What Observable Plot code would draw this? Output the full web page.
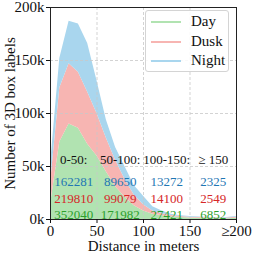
<!DOCTYPE html>
<html>
<head>
<meta charset="utf-8">
<script src="https://cdn.jsdelivr.net/npm/d3@7"></script>
<script src="https://cdn.jsdelivr.net/npm/@observablehq/plot@0.6"></script>
<style>
  html, body { margin: 0; padding: 0; background: white; }
  #wrap { position: relative; width: 254px; height: 254px; }
  #legend { position: absolute; left: 145px; top: 10px; width: 84px; height: 62px;
    border: 1px solid #d4d4d4; border-radius: 3px; background: rgba(255,255,255,0.85);
    font-family: "Liberation Serif", serif; font-size: 15px; color: #111; box-sizing: border-box; }
  .item { position: absolute; left: 0; height: 18px; width: 100%; }
  .sw { position: absolute; left: 5px; top: 9px; width: 30px; height: 2px; }
  .lb { position: absolute; left: 45px; top: 0; line-height: 19px; }
</style>
</head>
<body>
<div id="wrap"></div>
<script>
// distance bins (m)
const distances = [0,10,20,30,40,50,60,70,80,90,100,110,120,130,140,150,160,170,180,190,200];
// labels per distance (thousands), per condition (stacked: Day bottom, Dusk, Night top)
const day   = [14, 73, 90, 86, 71, 60, 45, 31, 21, 13, 8, 5, 3.5, 2.5, 1.8, 1.4, 1.1, 0.9, 0.8, 0.8, 1.2];
const dusk  = [20, 51, 57, 53, 49, 40, 32, 25, 17, 10, 6, 3, 2, 1.3, 1.0, 0.8, 0.8, 0.7, 0.7, 0.7, 0.9];
const night = [18, 28, 40, 45.5, 46, 31, 17, 12, 12, 9, 8, 4, 2.5, 1.2, 0.7, 0.6, 0.5, 0.4, 0.4, 0.5, 0.7];
const conditions = ["Day", "Dusk", "Night"];
const fillColors = ["#b1e3b1", "#f7b5b2", "#a9d6ee"];
const textColors = ["#2ca02c", "#d62728", "#1f77b4"];

// range annotations
const rangeLabels = ["0-50:", "50-100:", "100-150:", "\u2265 150"];
const rangeStart = [0, 50, 100, 150];
const nightCounts = [162281, 89650, 13272, 2325];
const duskCounts  = [219810, 99079, 14100, 2549];
const dayCounts   = [352040, 171982, 27421, 6852];

const xTicks = [0, 50, 100, 150, 200];
const yTicks = [0, 50000, 100000, 150000, 200000];

const series = [day, dusk, night];
const rows = [];
conditions.forEach((c, i) => distances.forEach((d, j) => rows.push({d, v: series[i][j] * 1000, cond: c})));

const ann = rangeLabels.map((l, i) => ({label: l, xc: rangeStart[i] + 25,
  night: nightCounts[i], dusk: duskCounts[i], day: dayCounts[i]}));

const plot = Plot.plot({
  width: 254, height: 254,
  marginLeft: 50, marginRight: 18, marginTop: 7, marginBottom: 35,
  style: {fontFamily: "Liberation Serif, serif", fontSize: "14px", background: "white", color: "#111"},
  x: {domain: [0, 200]},
  y: {domain: [0, 200000]},
  color: {domain: conditions, range: fillColors},
  marks: [
    Plot.areaY(rows, {x: "d", y: "v", fill: "cond"}),
    Plot.gridX([50, 100, 150], {stroke: "#c8c8c8", strokeOpacity: 0.8, strokeDasharray: "3,2"}),
    Plot.gridY([50000, 100000, 150000], {stroke: "#c8c8c8", strokeOpacity: 0.8, strokeDasharray: "3,2"}),
    Plot.frame({stroke: "#222", strokeWidth: 1}),
    Plot.axisX({ticks: xTicks, tickSize: 4, tickPadding: 2, fontSize: 15, label: null,
      tickFormat: d => d === 200 ? "\u2265200" : String(d)}),
    Plot.axisY({ticks: yTicks, tickSize: 4, tickPadding: 2, fontSize: 15, label: null,
      tickFormat: d => (d / 1000) + "k"}),
    Plot.text(ann, {x: "xc", text: "label", frameAnchor: "bottom", lineAnchor: "middle", dy: -60, fontSize: 13, fill: "#111"}),
    Plot.text(ann, {x: "xc", text: d => String(d.night), frameAnchor: "bottom", lineAnchor: "middle", dy: -38, fontSize: 13, fill: textColors[2]}),
    Plot.text(ann, {x: "xc", text: d => String(d.dusk), frameAnchor: "bottom", lineAnchor: "middle", dy: -21, fontSize: 13, fill: textColors[1]}),
    Plot.text(ann, {x: "xc", text: d => String(d.day), frameAnchor: "bottom", lineAnchor: "middle", dy: -5, fontSize: 13, fill: textColors[0]}),
    Plot.text(["Distance in meters"], {frameAnchor: "bottom", lineAnchor: "middle", dy: 27, fontSize: 15, fill: "#111"}),
    Plot.text(["Number of 3D box labels"], {frameAnchor: "left", textAnchor: "middle", lineAnchor: "middle", dx: -40, rotate: -90, fontSize: 15, fill: "#111"})
  ]
});
const wrap = document.getElementById("wrap");
wrap.appendChild(plot);

const legend = document.createElement("div");
legend.id = "legend";
conditions.forEach((c, i) => {
  const it = document.createElement("div");
  it.className = "item";
  it.style.top = (1 + i * 19.5) + "px";
  const sw = document.createElement("div");
  sw.className = "sw";
  sw.style.background = fillColors[i];
  const lb = document.createElement("div");
  lb.className = "lb";
  lb.textContent = c;
  it.appendChild(sw); it.appendChild(lb);
  legend.appendChild(it);
});
wrap.appendChild(legend);
</script>
</body>
</html>
